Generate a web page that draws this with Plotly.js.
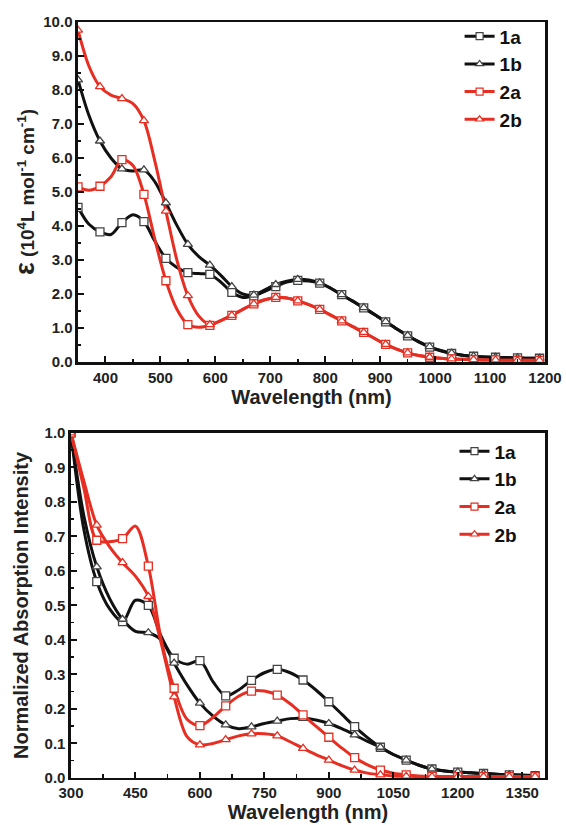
<!DOCTYPE html>
<html>
<head>
<meta charset="utf-8">
<script src="https://cdn.plot.ly/plotly-3.0.1.min.js"></script>
<style>html,body{margin:0;padding:0;background:#fff;}#chart{width:566px;height:825px;}</style>
</head>
<body>
<div id="chart"></div>
<script>
// ---------- Top panel: molar absorptivity (10^4 L mol^-1 cm^-1) ----------
const wlTop = [350,370,390,410,430,450,470,490,510,530,550,570,590,610,630,650,670,690,710,730,750,770,790,810,830,850,870,890,910,930,950,970,990,1010,1030,1050,1070,1090,1110,1130,1150,1170,1190];
const top1a = [4.55,4.05,3.83,3.75,4.10,4.33,4.13,3.55,3.05,2.78,2.63,2.60,2.58,2.35,2.05,1.90,1.95,2.08,2.22,2.35,2.40,2.38,2.32,2.17,1.98,1.79,1.59,1.39,1.18,0.97,0.77,0.59,0.44,0.33,0.25,0.20,0.17,0.15,0.14,0.13,0.12,0.11,0.11];
const top1b = [8.30,7.25,6.50,6.00,5.68,5.62,5.65,5.30,4.68,4.02,3.46,3.10,2.85,2.55,2.22,2.00,1.97,2.12,2.28,2.38,2.43,2.41,2.33,2.17,1.98,1.79,1.60,1.40,1.19,0.98,0.78,0.60,0.45,0.34,0.26,0.20,0.17,0.15,0.14,0.13,0.12,0.11,0.11];
const top2a = [5.15,5.05,5.17,5.45,5.95,5.78,4.93,3.60,2.39,1.55,1.10,1.02,1.08,1.22,1.37,1.55,1.71,1.83,1.90,1.88,1.80,1.69,1.55,1.38,1.21,1.04,0.87,0.69,0.52,0.38,0.27,0.19,0.14,0.11,0.09,0.08,0.07,0.06,0.06,0.05,0.05,0.05,0.05];
const top2b = [9.76,8.70,8.10,7.85,7.75,7.60,7.10,5.90,4.44,3.00,1.95,1.35,1.10,1.22,1.37,1.55,1.71,1.83,1.90,1.88,1.80,1.69,1.55,1.38,1.21,1.04,0.87,0.69,0.52,0.38,0.27,0.19,0.14,0.11,0.09,0.08,0.07,0.06,0.06,0.05,0.05,0.05,0.05];

// ---------- Bottom panel: normalized absorption ----------
const wlBot = [300,330,360,390,420,450,480,510,540,570,600,630,660,690,720,750,780,810,840,870,900,930,960,990,1020,1050,1080,1110,1140,1170,1200,1230,1260,1290,1320,1350,1380];
const bot1a = [1.00,0.72,0.569,0.49,0.453,0.515,0.50,0.41,0.347,0.33,0.34,0.28,0.238,0.255,0.283,0.305,0.315,0.305,0.284,0.255,0.221,0.185,0.149,0.117,0.089,0.068,0.052,0.037,0.026,0.020,0.017,0.015,0.013,0.011,0.009,0.008,0.007];
const bot1b = [1.00,0.76,0.612,0.52,0.46,0.425,0.421,0.40,0.333,0.27,0.217,0.18,0.154,0.143,0.148,0.158,0.165,0.172,0.173,0.168,0.158,0.143,0.125,0.106,0.089,0.068,0.052,0.037,0.026,0.020,0.017,0.015,0.013,0.011,0.009,0.008,0.007];
const bot2a = [1.00,0.84,0.689,0.685,0.694,0.73,0.614,0.40,0.26,0.17,0.152,0.175,0.209,0.237,0.252,0.252,0.240,0.215,0.183,0.150,0.118,0.087,0.059,0.038,0.023,0.014,0.009,0.006,0.005,0.004,0.004,0.004,0.004,0.004,0.004,0.004,0.004];
const bot2b = [1.00,0.86,0.733,0.67,0.624,0.585,0.526,0.39,0.235,0.12,0.096,0.100,0.111,0.122,0.128,0.128,0.122,0.105,0.086,0.068,0.052,0.036,0.023,0.014,0.009,0.006,0.005,0.004,0.004,0.004,0.004,0.004,0.004,0.004,0.004,0.004,0.004];

const seriesNames = ['1a','1b','2a','2b'];
const lineColors = ['#111111','#111111','#e62e22','#e62e22'];
const markerEdge = ['#444444','#444444','#e62e22','#e62e22'];
const symbols = ['square','triangle-up','square','triangle-up'];

const FONT = 'Liberation Sans, Arial, Helvetica, sans-serif';
const traces = [];

function addPanel(wl, ys, xa, ya, markerEvery, legendId) {
  const lines = [], marks = [], legs = [];
  ys.forEach((y, k) => {
    lines.push({
      x: wl, y: y, xaxis: xa, yaxis: ya, mode: 'lines', showlegend: false, hoverinfo: 'skip',
      line: {color: lineColors[k], width: 3, shape: 'spline', smoothing: 0.9}
    });
    marks.push({
      x: wl.filter((_, i) => i % markerEvery === 0),
      y: y.filter((_, i) => i % markerEvery === 0),
      xaxis: xa, yaxis: ya, mode: 'markers', showlegend: false, hoverinfo: 'skip',
      marker: {symbol: symbols[k], size: 8, color: '#ffffff', line: {color: markerEdge[k], width: 1.3}}
    });
    legs.push({
      x: [null], y: [null], xaxis: xa, yaxis: ya, mode: 'lines+markers', name: seriesNames[k],
      legend: legendId,
      line: {color: lineColors[k], width: 3},
      marker: {symbol: symbols[k], size: 7, color: '#ffffff', line: {color: markerEdge[k], width: 1.2}}
    });
  });
  traces.push(...lines, ...marks, ...legs);
}

addPanel(wlTop, [top1a, top1b, top2a, top2b], 'x', 'y', 2, 'legend');
addPanel(wlBot, [bot1a, bot1b, bot2a, bot2b], 'x2', 'y2', 2, 'legend2');

const tickFont = {family: FONT, size: 15, color: '#222', weight: 'bold'};
const titleFont = {family: FONT, size: 20, color: '#222', weight: 'bold'};
function axis(extra) {
  return Object.assign({
    showline: true, linecolor: '#111', linewidth: 2.5, mirror: true,
    ticks: 'inside', ticklen: 6, tickwidth: 2, tickcolor: '#111',
    showgrid: false, zeroline: false, automargin: false,
    tickfont: tickFont
  }, extra);
}
const minor = d => ({ticks: 'inside', ticklen: 3.5, tickwidth: 1.5, tickcolor: '#111', dtick: d, showgrid: false});

const layout = {
  width: 566, height: 825,
  margin: {l: 0, r: 0, t: 0, b: 0},
  paper_bgcolor: '#ffffff', plot_bgcolor: '#ffffff',
  font: {family: FONT, color: '#222'},
  xaxis: axis({domain: [0.1378, 0.9629], anchor: 'y', range: [350, 1200], tick0: 0, dtick: 100, minor: minor(50),
    title: {text: 'Wavelength (nm)', font: titleFont, standoff: 2}}),
  yaxis: axis({domain: [0.5612, 0.9733], anchor: 'x', range: [0, 10], dtick: 1, tickformat: '.1f', minor: minor(0.5),
    title: {text: '<span style="font-size:27px">ε</span> (10<sup>4</sup>L mol<sup>-1</sup> cm<sup>-1</sup>)', font: {family: FONT, size: 19, color: '#222', weight: 'bold'}, standoff: 4}}),
  xaxis2: axis({domain: [0.1254, 0.9629], anchor: 'y2', range: [300, 1403], tick0: 0, dtick: 150, minor: minor(75),
    title: {text: 'Wavelength (nm)', font: titleFont, standoff: 4}}),
  yaxis2: axis({domain: [0.057, 0.4752], anchor: 'x2', range: [0, 1], dtick: 0.1, tickformat: '.1f', minor: minor(0.05),
    title: {text: 'Normalized Absorption Intensity', font: {family: FONT, size: 20, color: '#222', weight: 'bold'}, standoff: 11}}),
  legend: {x: 0.812, y: 0.979, xanchor: 'left', yanchor: 'top', bgcolor: 'rgba(0,0,0,0)',
    font: {family: FONT, size: 19, color: '#111', weight: 'bold'}, tracegroupgap: 0},
  legend2: {x: 0.803, y: 0.476, xanchor: 'left', yanchor: 'top', bgcolor: 'rgba(0,0,0,0)',
    font: {family: FONT, size: 19, color: '#111', weight: 'bold'}, tracegroupgap: 0},
  showlegend: true
};

Plotly.newPlot('chart', traces, layout, {staticPlot: true, displayModeBar: false});
</script>
</body>
</html>
